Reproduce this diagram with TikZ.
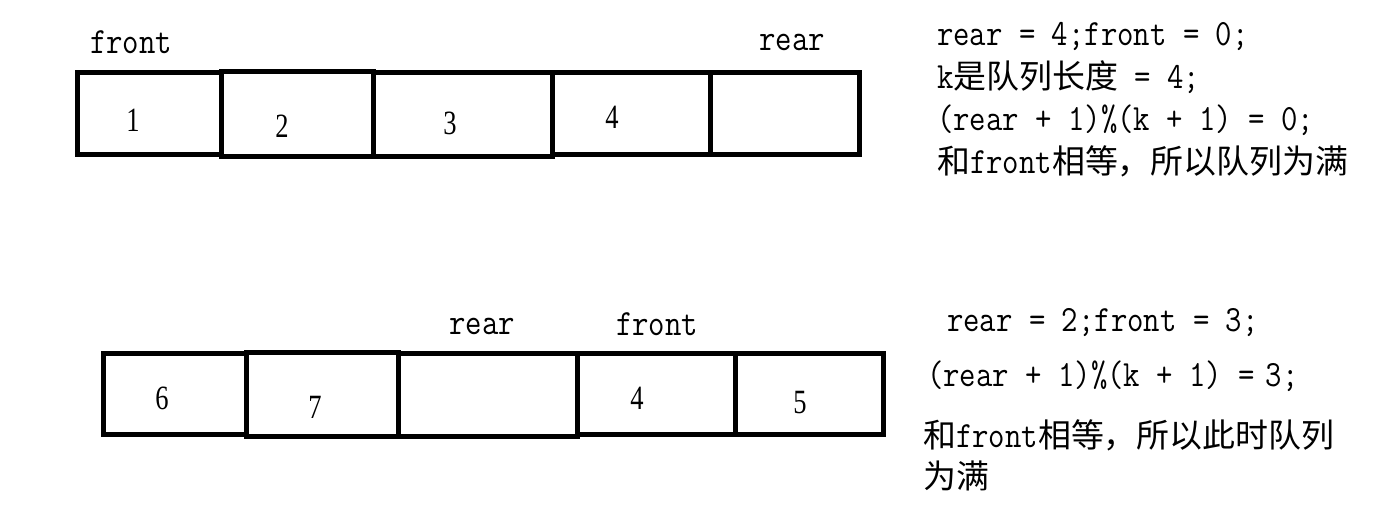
\documentclass[tikz,border=0pt]{standalone}
\usepackage{fontspec}
\newfontfamily\mono{Latin Modern Mono}[FakeStretch=0.86]
\newfontfamily\cjk{Noto Sans CJK SC}[Scale=0.89]
\newfontfamily\digit{Liberation Serif}[FakeStretch=0.78]

\begin{document}
\begin{tikzpicture}[x=1pt,y=-1pt,
	cell/.style={draw,line width=5pt,inner sep=0pt,outer sep=0pt,anchor=north west},
	num/.style={font=\digit\fontsize{34}{34}\selectfont,anchor=base,inner sep=0pt},
	lbl/.style={font=\mono\fontsize{37}{37}\selectfont,anchor=base,inner sep=0pt},
	txt/.style={font=\mono\fontsize{37}{37}\selectfont,anchor=base west,inner sep=0pt}]
	\useasboundingbox (0,0) rectangle (1376,517);
	% first queue
	\node[cell,minimum width=144pt,minimum height=82pt] (top1) at (77.5,72.5) {};
	\node[cell,minimum width=152pt,minimum height=85pt] (top2) at (221.5,71.5) {};
	\node[cell,minimum width=179pt,minimum height=84pt] (top3) at (373.5,72.5) {};
	\node[cell,minimum width=157.5pt,minimum height=82pt] (top4) at (552.5,72.5) {};
	\node[cell,minimum width=149pt,minimum height=82pt] (top5) at (710,72.5) {};
	\node[num] (topn1) at (133,131) {1};
	\node[num] (topn2) at (282,137) {2};
	\node[num] (topn3) at (450,134) {3};
	\node[num] (topn4) at (612,128) {4};
	\node[lbl] (topfront) at (131,53) {front};
	\node[lbl] (toprear) at (792,50) {rear};
	% second queue
	\node[cell,minimum width=143pt,minimum height=81pt] (bot1) at (103,353.5) {};
	\node[cell,minimum width=152pt,minimum height=84pt] (bot2) at (246,352.5) {};
	\node[cell,minimum width=179pt,minimum height=83pt] (bot3) at (398,353.5) {};
	\node[cell,minimum width=158pt,minimum height=81pt] (bot4) at (577,353.5) {};
	\node[cell,minimum width=148pt,minimum height=81pt] (bot5) at (735,353.5) {};
	\node[num] (botn1) at (162,409) {6};
	\node[num] (botn2) at (315,418) {7};
	\node[num] (botn4) at (637,409) {4};
	\node[num] (botn5) at (800,413) {5};
	\node[lbl] (botrear) at (482,334) {rear};
	\node[lbl] (botfront) at (657,335) {front};
	% notes
	\node[txt] (topnote1) at (937,45) {rear = 4;front = 0;};
	\node[txt] (topnote2) at (937,88) {k{\cjk 是队列长度} = 4;};
	\node[txt] (topnote3) at (937,130) {(rear + 1)\%(k + 1) = 0;};
	\node[txt] (topnote4) at (937,173) {{\cjk 和}front{\cjk 相等，所以队列为满}};
	\node[txt] (botnote1) at (947,331) {rear = 2;front = 3;};
	\node[txt] (botnote2) at (927,386) {(rear + 1)\%(k + 1) =\kern11pt 3;};
	\node[txt] (botnote3) at (923,447) {{\cjk 和}front{\cjk 相等，所以此时队列}};
	\node[txt] (botnote4) at (923,488) {{\cjk 为满}};
\end{tikzpicture}
\end{document}
